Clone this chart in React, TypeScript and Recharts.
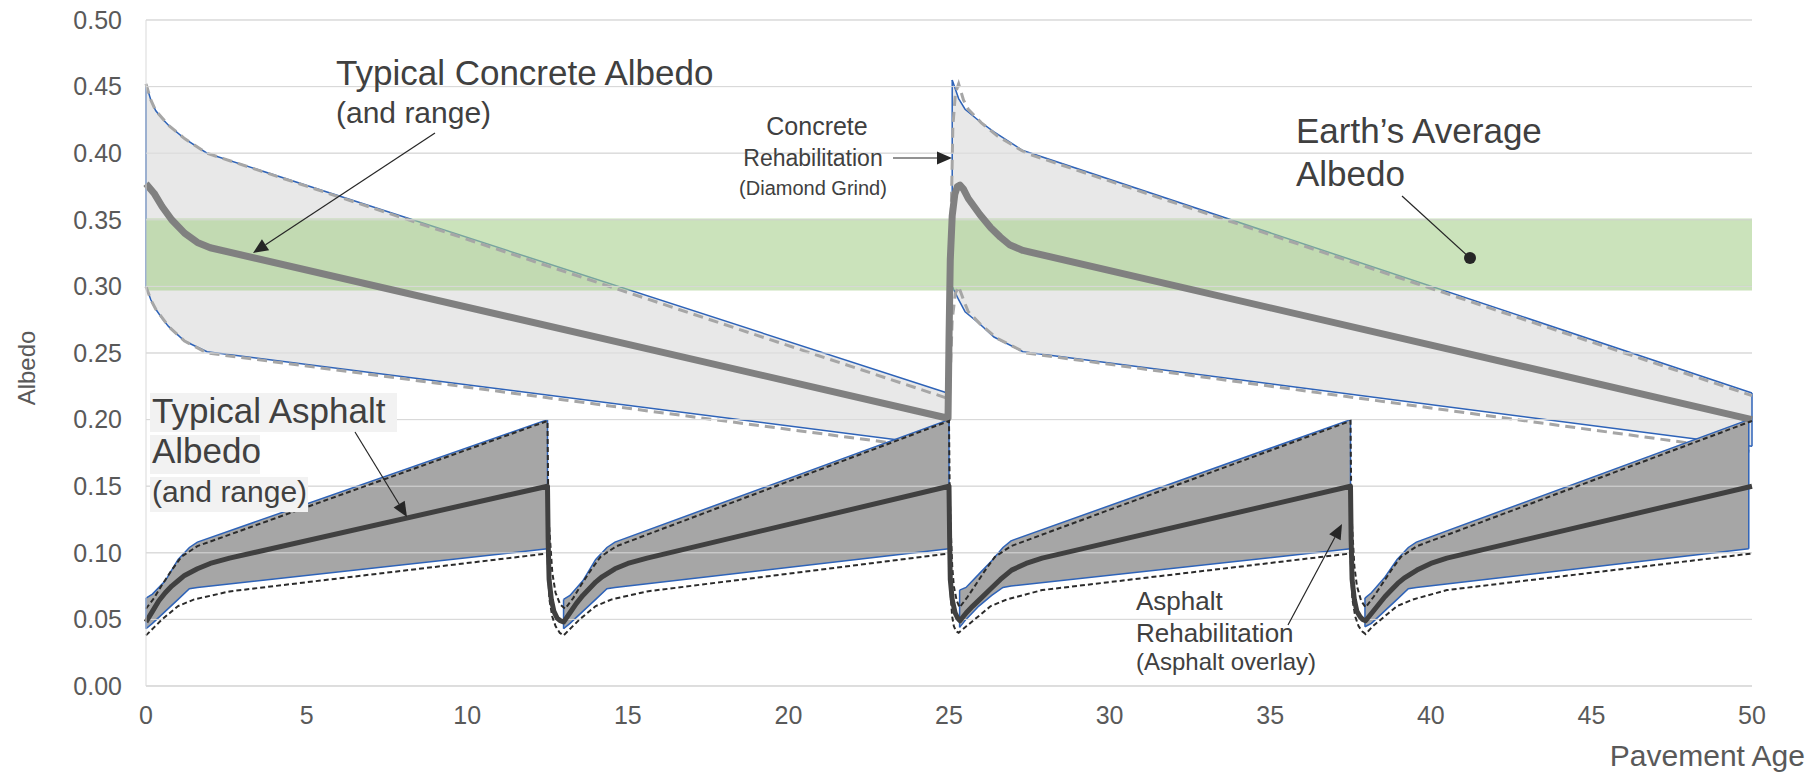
import React from "react";
import { ComposedChart, Area, Line, XAxis, YAxis, CartesianGrid, ReferenceLine } from "recharts";

const xTicks = [0, 5, 10, 15, 20, 25, 30, 35, 40, 45, 50];
const yTicks = [0, 0.05, 0.1, 0.15, 0.2, 0.25, 0.3, 0.35, 0.4, 0.45, 0.5];

// concrete range, rows are [age, low, high]
const concreteRange1 = [
  [0, 0.3, 0.452], [0.15, 0.29, 0.44], [0.3, 0.283, 0.432], [0.5, 0.276, 0.426],
  [0.7, 0.27, 0.421], [1.2, 0.259, 0.411], [1.9, 0.251, 0.4], [24.95, 0.18, 0.22],
];
const concreteRange2 = [
  [25.1, 0.3, 0.455], [25.3, 0.29, 0.441], [25.5, 0.281, 0.433], [25.95, 0.272, 0.424],
  [26.4, 0.262, 0.416], [27.3, 0.251, 0.402], [50, 0.18, 0.22],
];
const concreteMean = [
  [0, 0.377], [0.25, 0.37], [0.5, 0.36], [0.8, 0.35], [1.2, 0.34], [1.6, 0.333], [2.0, 0.329],
  [24.97, 0.201], [25.0, 0.26], [25.04, 0.32], [25.1, 0.353], [25.18, 0.369], [25.26, 0.375],
  [25.34, 0.376], [25.45, 0.373], [25.6, 0.366], [25.96, 0.354], [26.3, 0.344],
  [26.6, 0.337], [26.9, 0.331], [27.3, 0.327], [50, 0.2],
];
const concreteHighDash = [
  [0, 0.452], [0.15, 0.44], [0.3, 0.432], [0.7, 0.421], [1.2, 0.411], [1.9, 0.4],
  [24.95, 0.216], [25.0, 0.26], [25.05, 0.33], [25.12, 0.42], [25.2, 0.445], [25.3, 0.452],
  [25.45, 0.44], [25.6, 0.433], [26.0, 0.423], [26.5, 0.413], [27.4, 0.4], [50, 0.218],
];
const concreteLowDash = [
  [0, 0.3], [0.15, 0.29], [0.3, 0.283], [0.7, 0.27], [1.2, 0.259], [1.9, 0.25],
  [24.95, 0.177], [25.02, 0.22], [25.1, 0.275], [25.2, 0.295], [25.3, 0.3],
  [25.45, 0.29], [25.6, 0.281], [26.0, 0.271], [26.5, 0.261], [27.4, 0.25], [50, 0.176],
];

// asphalt range per overlay cycle, rows are [age, low, high]
const asphaltRange1 = [
  [0, 0.043, 0.066], [0.2, 0.047, 0.069], [0.6, 0.056, 0.079], [1.0, 0.065, 0.095],
  [1.35, 0.073, 0.104], [1.6, 0.074, 0.108], [12.5, 0.103, 0.2],
];
const asphaltRange2 = [
  [13.0, 0.043, 0.065], [13.2, 0.047, 0.068], [13.6, 0.056, 0.079], [14.0, 0.065, 0.095],
  [14.35, 0.073, 0.104], [14.6, 0.074, 0.108], [25.0, 0.103, 0.2],
];
const asphaltRange3 = [
  [25.33, 0.044, 0.072], [25.53, 0.05, 0.074], [25.93, 0.06, 0.084], [26.33, 0.068, 0.094],
  [26.68, 0.074, 0.104], [26.93, 0.075, 0.109], [37.5, 0.103, 0.2],
];
const asphaltRange4 = [
  [37.95, 0.0445, 0.066], [38.15, 0.047, 0.07], [38.55, 0.056, 0.081], [38.95, 0.065, 0.095],
  [39.3, 0.073, 0.104], [39.55, 0.074, 0.108], [49.9, 0.103, 0.2],
];
const asphaltMean = [
  [0, 0.048], [0.2, 0.056], [0.4, 0.064], [0.6, 0.07], [0.8, 0.075], [1.0, 0.079], [1.2, 0.083],
  [1.6, 0.088], [2.0, 0.092], [2.6, 0.096], [12.5, 0.15],
  [12.52, 0.11], [12.55, 0.08], [12.62, 0.065], [12.7, 0.056], [12.8, 0.051], [12.9, 0.049], [13.0, 0.048],
  [13.2, 0.055], [13.4, 0.062], [13.6, 0.068], [13.8, 0.073], [14.0, 0.078], [14.2, 0.082],
  [14.6, 0.088], [15.0, 0.092], [15.6, 0.096], [25.0, 0.15],
  [25.02, 0.11], [25.04, 0.08], [25.1, 0.065], [25.19, 0.055], [25.27, 0.051], [25.34, 0.049],
  [25.54, 0.055], [25.74, 0.06], [26.0, 0.066], [26.3, 0.073], [26.6, 0.08], [26.95, 0.087],
  [27.4, 0.092], [27.9, 0.096], [37.5, 0.15],
  [37.52, 0.11], [37.55, 0.08], [37.62, 0.065], [37.7, 0.056], [37.8, 0.052], [37.88, 0.05], [37.97, 0.049],
  [38.17, 0.055], [38.37, 0.061], [38.57, 0.067], [38.77, 0.072], [38.97, 0.077], [39.17, 0.081],
  [39.57, 0.087], [40.0, 0.092], [40.5, 0.096], [50, 0.15],
];
const asphaltHighDash = [
  [0, 0.058], [0.25, 0.066], [0.5, 0.076], [0.8, 0.087], [1.1, 0.097], [1.6, 0.105], [12.5, 0.199],
  [12.52, 0.15], [12.55, 0.12], [12.65, 0.085], [12.75, 0.07], [12.9, 0.061], [13.05, 0.058],
  [13.3, 0.066], [13.55, 0.076], [13.85, 0.087], [14.15, 0.097], [14.65, 0.105], [25.0, 0.199],
  [25.02, 0.15], [25.05, 0.12], [25.1, 0.09], [25.15, 0.075], [25.24, 0.064], [25.33, 0.059],
  [25.58, 0.067], [25.83, 0.076], [26.13, 0.087], [26.43, 0.097], [26.93, 0.105], [37.5, 0.199],
  [37.52, 0.15], [37.55, 0.12], [37.62, 0.09], [37.7, 0.075], [37.83, 0.064], [37.97, 0.059],
  [38.22, 0.067], [38.47, 0.076], [38.77, 0.087], [39.07, 0.097], [39.57, 0.105], [50, 0.199],
];
const asphaltLowDash = [
  [0, 0.038], [0.25, 0.044], [0.5, 0.05], [0.75, 0.055], [1.0, 0.06], [1.5, 0.065], [2.6, 0.071], [12.5, 0.0995],
  [12.53, 0.08], [12.56, 0.065], [12.65, 0.052], [12.75, 0.045], [12.88, 0.04], [13.0, 0.038],
  [13.25, 0.044], [13.5, 0.05], [13.75, 0.055], [14.0, 0.06], [14.5, 0.065], [15.6, 0.071], [25.0, 0.0995],
  [25.03, 0.08], [25.06, 0.065], [25.1, 0.052], [25.15, 0.045], [25.22, 0.041], [25.3, 0.04],
  [25.55, 0.045], [25.8, 0.05], [26.05, 0.055], [26.3, 0.06], [26.8, 0.065], [27.9, 0.072], [37.5, 0.0995],
  [37.53, 0.08], [37.56, 0.065], [37.65, 0.052], [37.75, 0.045], [37.86, 0.041], [37.97, 0.039],
  [38.2, 0.045], [38.45, 0.05], [38.7, 0.055], [38.95, 0.06], [39.45, 0.065], [40.5, 0.072], [50, 0.0995],
];
const earthBand = [[0, 0.297, 0.351], [50, 0.297, 0.351]];

const BLUE = "#2e63b8";
const FONT = "'Liberation Sans', Arial, sans-serif";
const TXT = "#404040";

const toRange = (rows) => rows.map(([x, lo, hi]) => ({ x, lo, hi }));
const toLine = (rows) => rows.map(([x, y]) => ({ x, y }));
const edges = (rows) => {
  const f = rows[0];
  const l = rows[rows.length - 1];
  return [
    [{ x: f[0], y: f[1] }, { x: f[0], y: f[2] }],
    [{ x: l[0], y: l[1] }, { x: l[0], y: l[2] }],
  ];
};
const rangeKey = (d) => [d.lo, d.hi];

function Arrow({ x1, y1, x2, y2 }) {
  const dx = x2 - x1;
  const dy = y2 - y1;
  const len = Math.hypot(dx, dy);
  const ux = dx / len;
  const uy = dy / len;
  const bx = x2 - ux * 15;
  const by = y2 - uy * 15;
  const pts = `${x2},${y2} ${bx - uy * 6.5},${by + ux * 6.5} ${bx + uy * 6.5},${by - ux * 6.5}`;
  return (
    <g>
      <line x1={x1} y1={y1} x2={bx} y2={by} stroke="#262626" strokeWidth={1.2} />
      <polygon points={pts} fill="#262626" />
    </g>
  );
}

export default function App() {
  const concreteAreas = [concreteRange1, concreteRange2];
  const asphaltAreas = [asphaltRange1, asphaltRange2, asphaltRange3, asphaltRange4];

  return (
    <div style={{ position: "absolute", left: 0, top: 0, width: 1812, height: 776, fontFamily: FONT, overflow: "hidden" }}>
      <ComposedChart width={1812} height={776} margin={{ top: 20, right: 60, bottom: 60, left: 0 }}>
        <CartesianGrid vertical={false} stroke="#d9d9d9" />
        <XAxis
          type="number"
          dataKey="x"
          domain={[0, 50]}
          ticks={xTicks}
          interval={0}
          height={30}
          tickLine={false}
          tickSize={0}
          tickMargin={20}
          axisLine={{ stroke: "#d9d9d9" }}
          tick={{ fill: "#595959", fontSize: 25, fontFamily: FONT }}
        />
        <YAxis
          type="number"
          domain={[0, 0.5]}
          ticks={yTicks}
          interval={0}
          width={146}
          tickLine={false}
          tickSize={0}
          tickMargin={24}
          axisLine={{ stroke: "#d9d9d9" }}
          tickFormatter={(v) => v.toFixed(2)}
          tick={{ fill: "#595959", fontSize: 25, fontFamily: FONT }}
        />

        {concreteAreas.map((rows, i) => (
          <Area key={`ca${i}`} data={toRange(rows)} dataKey={rangeKey} type="linear"
            fill="#e8e8e8" fillOpacity={1} stroke={BLUE} strokeWidth={1.5}
            dot={false} activeDot={false} isAnimationActive={false} zIndex={100} />
        ))}
        {concreteAreas.flatMap((rows, i) => edges(rows).map((seg, j) => (
          <Line key={`ce${i}${j}`} data={seg} dataKey="y" type="linear" stroke={BLUE} strokeWidth={1.5}
            dot={false} activeDot={false} isAnimationActive={false} zIndex={101} />
        )))}
        <Area data={toRange(earthBand)} dataKey={rangeKey} type="linear" fill="#a9d18e" fillOpacity={0.6}
          stroke="none" dot={false} activeDot={false} isAnimationActive={false} zIndex={102} />
        <Line data={toLine(concreteHighDash)} dataKey="y" type="linear" stroke="#a6a6a6" strokeWidth={3}
          strokeDasharray="10 6" dot={false} activeDot={false} isAnimationActive={false} zIndex={103} />
        <Line data={toLine(concreteLowDash)} dataKey="y" type="linear" stroke="#a6a6a6" strokeWidth={3}
          strokeDasharray="10 6" dot={false} activeDot={false} isAnimationActive={false} zIndex={103} />

        {asphaltAreas.map((rows, i) => (
          <Area key={`aa${i}`} data={toRange(rows)} dataKey={rangeKey} type="linear"
            fill="#a6a6a6" fillOpacity={1} stroke={BLUE} strokeWidth={1.5}
            dot={false} activeDot={false} isAnimationActive={false} zIndex={104} />
        ))}
        {asphaltAreas.flatMap((rows, i) => edges(rows).map((seg, j) => (
          <Line key={`ae${i}${j}`} data={seg} dataKey="y" type="linear" stroke={BLUE} strokeWidth={1.5}
            dot={false} activeDot={false} isAnimationActive={false} zIndex={105} />
        )))}
        {yTicks.map((v) => (
          <ReferenceLine key={`g${v}`} y={v} stroke="#d9d9d9" strokeWidth={1} zIndex={106} />
        ))}

        <Line data={toLine(concreteMean)} dataKey="y" type="linear" stroke="#808080" strokeWidth={7}
          strokeLinejoin="round" dot={false} activeDot={false} isAnimationActive={false} zIndex={107} />
        <Line data={toLine(asphaltHighDash)} dataKey="y" type="linear" stroke="#2b2b2b" strokeWidth={2}
          strokeDasharray="5 3" dot={false} activeDot={false} isAnimationActive={false} zIndex={108} />
        <Line data={toLine(asphaltLowDash)} dataKey="y" type="linear" stroke="#2b2b2b" strokeWidth={2}
          strokeDasharray="5 3" dot={false} activeDot={false} isAnimationActive={false} zIndex={108} />
        <Line data={toLine(asphaltMean)} dataKey="y" type="linear" stroke="#404040" strokeWidth={5}
          strokeLinejoin="round" dot={false} activeDot={false} isAnimationActive={false} zIndex={109} />
      </ComposedChart>

      <svg width={1812} height={776}
        style={{ position: "absolute", left: 0, top: 0, pointerEvents: "none" }}
        fontFamily={FONT} fill={TXT}>
        <text x={26} y={368} fontSize={24} fill="#595959" textAnchor="middle"
          dominantBaseline="central" transform="rotate(-90 26 368)">Albedo</text>
        <text x={1805} y={766} fontSize={30} fill="#595959" textAnchor="end">Pavement Age</text>

        <text x={336} y={85} fontSize={35}>Typical Concrete Albedo</text>
        <text x={336} y={123} fontSize={30}>(and range)</text>
        <Arrow x1={435} y1={133} x2={253} y2={253} />

        <text x={817} y={135} fontSize={25} textAnchor="middle">Concrete</text>
        <text x={813} y={166} fontSize={23} textAnchor="middle">Rehabilitation</text>
        <text x={813} y={195} fontSize={20} textAnchor="middle">(Diamond Grind)</text>
        <Arrow x1={893} y1={158} x2={952} y2={158} />

        <text x={1296} y={143} fontSize={35}>Earth’s Average</text>
        <text x={1296} y={186} fontSize={35}>Albedo</text>
        <line x1={1402} y1={196} x2={1470} y2={258} stroke="#262626" strokeWidth={1.2} />
        <circle cx={1470} cy={258} r={6} fill="#262626" />

        <rect x={150} y={393} width={247} height={39} fill="#f2f2f2" />
        <rect x={150} y={435} width={110} height={39} fill="#f2f2f2" />
        <rect x={150} y={477} width={158} height={35} fill="#f2f2f2" />
        <text x={152} y={423} fontSize={35}>Typical Asphalt</text>
        <text x={152} y={463} fontSize={35}>Albedo</text>
        <text x={152} y={502} fontSize={30}>(and range)</text>
        <Arrow x1={355} y1={432} x2={407} y2={517} />

        <text x={1136} y={610} fontSize={26}>Asphalt</text>
        <text x={1136} y={642} fontSize={26}>Rehabilitation</text>
        <text x={1136} y={670} fontSize={24}>(Asphalt overlay)</text>
        <Arrow x1={1288} y1={625} x2={1342} y2={524} />
      </svg>
    </div>
  );
}
